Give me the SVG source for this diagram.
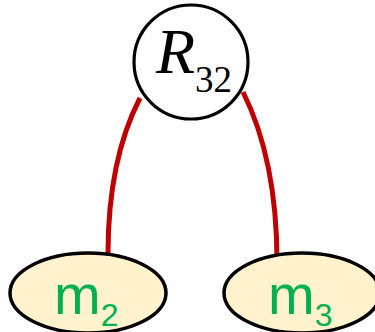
<svg xmlns="http://www.w3.org/2000/svg" width="375" height="332" viewBox="0 0 375 332">
<style>
.edge{fill:none;stroke:#c00000;stroke-width:5}
.leaf{fill:#fff2cc;stroke:#000;stroke-width:3.5}
.root{fill:#fff;stroke:#000;stroke-width:3.2}
.r{font-family:"Liberation Serif",serif;font-style:italic;fill:#000}
.s{font-style:normal}
.m{font-family:"Liberation Sans",sans-serif;fill:#00b050}
</style>
<g id="connectors">
<path class="edge" d="M140,98 Q108,160 108,254"/>
<path class="edge" d="M243,92 Q277,160 277,262"/>
</g>
<g id="m2">
<ellipse class="leaf" cx="88" cy="293" rx="78" ry="40"/>
<text class="m" x="54" y="314" font-size="56">m<tspan font-size="32" dy="12">2</tspan></text>
</g>
<g id="m3">
<ellipse class="leaf" cx="302" cy="293" rx="78" ry="40"/>
<text class="m" x="268" y="314" font-size="56">m<tspan font-size="32" dy="12">3</tspan></text>
</g>
<g id="R32">
<circle class="root" cx="191" cy="62" r="57"/>
<text class="r" x="156" y="73" font-size="64">R<tspan class="s" font-size="37" dy="19">32</tspan></text>
</g>
</svg>
